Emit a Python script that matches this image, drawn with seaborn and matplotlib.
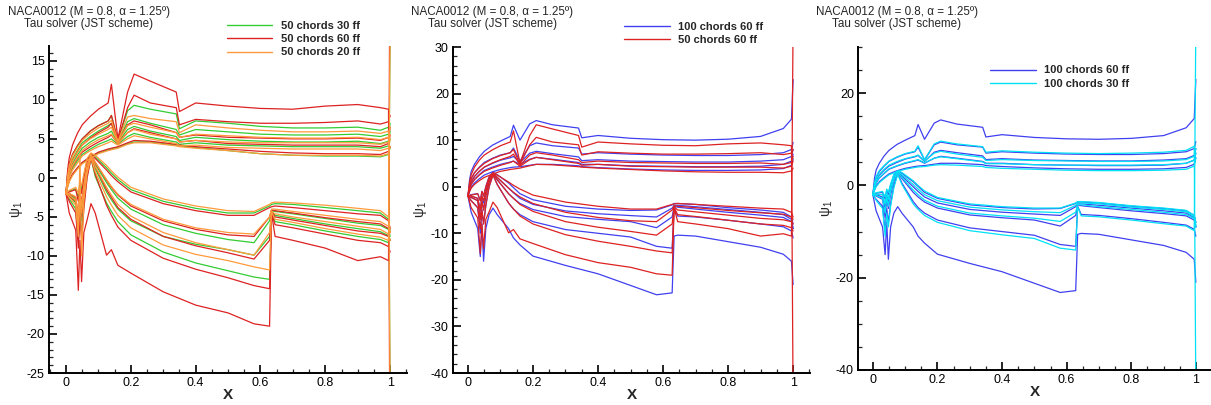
import numpy as np
import pandas as pd
import matplotlib
matplotlib.use('Agg')
import matplotlib.pyplot as plt
import seaborn as sns
from matplotlib.lines import Line2D
from matplotlib.ticker import MultipleLocator, FuncFormatter

# --- data ---
# chordwise stations, upper branch (suction side) and lower branch
xu = [0, 0.005, 0.01, 0.02, 0.035, 0.05, 0.075, 0.1, 0.13, 0.14, 0.16, 0.19, 0.21, 0.26,
      0.34, 0.35, 0.4, 0.5, 0.6, 0.7, 0.8, 0.9, 0.97, 0.995, 1.0]
xl = [0, 0.01, 0.03, 0.038, 0.043, 0.048, 0.055, 0.065, 0.077, 0.09, 0.125, 0.14, 0.16,
      0.2, 0.3, 0.4, 0.5, 0.58, 0.628, 0.634, 0.645, 0.7, 0.8, 0.9, 0.97, 0.995, 1.0]

# 50 chords, 60 ff (red)
red_upper = [
    [-2, 1.0, 2.6, 4.2, 5.7, 6.8, 7.9, 8.8, 9.6, 12.0, 5.0, 11.0, 13.3, 12.4, 11.0, 8.5, 9.6, 9.2, 8.9, 8.8, 9.2, 9.4, 9.0, 8.8, -45],
    [-2, 0.5, 1.8, 3.0, 4.1, 5.0, 6.0, 6.7, 7.3, 8.0, 4.8, 9.0, 10.6, 9.6, 9.0, 6.8, 7.5, 7.2, 7.0, 7.0, 7.1, 7.3, 6.9, 7.2, 8.0],
    [-2, 0.0, 1.1, 2.2, 3.3, 4.2, 5.1, 5.8, 6.5, 7.0, 4.6, 6.8, 7.3, 6.8, 5.8, 5.2, 5.5, 5.2, 5.1, 5.0, 5.0, 5.1, 4.8, 5.2, 6.5],
    [-2, -0.5, 0.5, 1.5, 2.5, 3.3, 4.0, 4.6, 5.2, 5.5, 4.4, 5.8, 6.3, 5.8, 5.0, 4.6, 4.8, 4.4, 4.3, 4.2, 4.2, 4.2, 4.0, 4.4, 5.5],
    [-2, -1.0, -0.3, 0.5, 1.3, 2.0, 2.7, 3.3, 3.7, 3.8, 4.0, 4.5, 4.8, 4.7, 4.3, 4.2, 4.0, 3.7, 3.4, 3.2, 3.1, 3.1, 3.0, 3.4, 4.0],
]
red_lower = [
    [-2, -4.5, -6.7, -14.4, -8, -13.3, -7, -5.4, -3.3, -4.5, -9.9, -9.2, -11.2, -12.2, -14.6, -16.3, -17.3, -18.7, -19.0, -4.5, -7.5, -8.0, -9.0, -10.6, -10.1, -10.6, 35],
    [-2, -3, -4.5, -9, -5, -8, -4, 0, 2.5, 0.5, -3.5, -4.8, -6.3, -8.0, -10.3, -11.7, -12.8, -13.8, -14.2, -4.5, -6.0, -6.4, -7.2, -8.0, -8.3, -8.8, -9.5],
    [-2, -2.3, -3, -7, -3, -5, -2, 1, 2.8, 1.5, -1.5, -2.5, -3.8, -5.3, -7.5, -8.7, -9.6, -10.4, -8.0, -4.3, -5.0, -5.4, -6.1, -6.8, -7.1, -7.5, -8],
    [-2, -2, -2.5, -5, -2, -3, -1, 1.5, 3, 2, -0.3, -1.2, -2.2, -3.6, -5.5, -6.6, -7.3, -7.5, -5.0, -4.1, -4.2, -4.5, -5.1, -5.6, -5.9, -6.5, -7],
    [-2, -1.8, -1.5, -3, -1, -2, 0, 2, 3, 2.5, 1.0, 0.3, -0.5, -1.8, -3.3, -4.2, -4.8, -4.8, -3.8, -3.7, -3.6, -3.8, -4.2, -4.6, -4.8, -5.5, -6.5],
]

# 50 chords, 30 ff (green)
green_upper = [
    [-2, 0.5, 1.8, 3.0, 4.1, 5.0, 6.0, 6.7, 7.3, 8.0, 4.8, 8.6, 9.3, 8.8, 8.2, 6.3, 7.3, 7.0, 6.6, 6.4, 6.4, 6.5, 6.1, 6.5, -30],
    [-2, 0.0, 1.2, 2.4, 3.5, 4.5, 5.3, 6.0, 6.7, 7.0, 4.7, 7.2, 7.6, 7.0, 6.2, 5.5, 6.2, 5.9, 5.6, 5.5, 5.5, 5.6, 5.3, 5.6, 7.0],
    [-2, -0.4, 0.7, 1.8, 2.9, 3.8, 4.6, 5.2, 5.7, 6.0, 4.5, 6.2, 6.6, 6.0, 5.3, 4.8, 5.2, 4.9, 4.7, 4.6, 4.6, 4.7, 4.4, 4.7, 6.0],
    [-2, -0.8, 0.2, 1.2, 2.2, 3.0, 3.7, 4.3, 4.8, 5.0, 4.3, 5.3, 5.7, 5.2, 4.6, 4.3, 4.5, 4.2, 4.1, 4.0, 4.0, 4.0, 3.8, 4.1, 5.0],
    [-2, -1.1, -0.4, 0.4, 1.2, 1.9, 2.6, 3.2, 3.6, 3.7, 3.9, 4.4, 4.6, 4.6, 4.2, 4.1, 3.9, 3.5, 3.1, 2.9, 2.8, 2.8, 2.7, 3.0, 4.0],
]
green_lower = [
    [-2, -2.7, -4, -8, -4.5, -7, -3.5, 0.3, 2.5, 0.2, -3.2, -4.3, -5.6, -7.3, -9.5, -10.9, -11.9, -12.7, -13.0, -4.4, -5.6, -6.0, -6.8, -7.5, -7.9, -8.3, 20],
    [-2, -2.3, -3.2, -7, -3.5, -5.5, -2.5, 0.8, 2.7, 1.2, -1.8, -2.8, -4.0, -5.5, -7.5, -8.5, -9.2, -9.9, -7.5, -4.3, -4.8, -5.2, -5.9, -6.5, -6.9, -7.4, -8],
    [-2, -2.1, -2.7, -6, -2.5, -4, -1.5, 1.3, 2.9, 1.8, -0.6, -1.5, -2.6, -4.0, -6.0, -7.1, -7.9, -8.3, -5.5, -4.2, -4.3, -4.6, -5.2, -5.8, -6.1, -6.6, -7.5],
    [-2, -1.7, -1.4, -2.5, -0.8, -1.5, 0.3, 2.2, 3.1, 2.7, 1.3, 0.6, -0.2, -1.5, -3.0, -3.9, -4.5, -4.5, -3.6, -3.4, -3.3, -3.4, -3.8, -4.2, -4.5, -5.3, -7],
]

# 50 chords, 20 ff (orange)
orange_upper = [
    [-2, 0.3, 1.6, 2.8, 3.9, 4.8, 5.7, 6.4, 7.0, 7.4, 4.7, 7.8, 8.0, 7.6, 7.2, 5.8, 6.8, 6.4, 6.1, 5.9, 5.9, 6.0, 5.7, 6.0, -30],
    [-2, -0.2, 1.0, 2.2, 3.3, 4.2, 5.0, 5.6, 6.2, 6.5, 4.6, 6.7, 7.0, 6.5, 5.8, 5.2, 5.6, 5.4, 5.2, 5.1, 5.1, 5.2, 4.9, 5.2, 6.5],
    [-2, -0.6, 0.5, 1.6, 2.6, 3.5, 4.3, 4.9, 5.4, 5.6, 4.4, 5.8, 6.2, 5.6, 5.0, 4.6, 4.8, 4.6, 4.5, 4.5, 4.5, 4.5, 4.3, 4.6, 5.5],
    [-2, -0.9, 0.0, 1.0, 1.9, 2.8, 3.5, 4.0, 4.5, 4.7, 4.2, 5.0, 5.4, 5.0, 4.4, 4.1, 4.2, 3.9, 3.8, 3.7, 3.7, 3.7, 3.5, 3.8, 5.0],
    [-2, -1.2, -0.5, 0.3, 1.1, 1.8, 2.5, 3.1, 3.5, 3.6, 3.8, 4.3, 4.5, 4.5, 4.1, 4.0, 3.8, 3.5, 3.1, 2.9, 2.9, 2.9, 2.8, 3.1, 4.0],
]
orange_lower = [
    [-2, -2.5, -3.5, -7.5, 3.0, -10, -3, 0.6, 2.6, 0.8, -2.4, -3.5, -4.8, -6.4, -8.6, -9.8, -10.6, -11.4, -11.8, -4.4, -5.3, -5.7, -6.5, -7.2, -7.6, -8, 20],
    [-2, -2.2, -2.9, -6.5, -3, -4.5, -2, 1.0, 2.8, 1.5, -1.2, -2.2, -3.4, -4.9, -7.0, -8.3, -9.2, -9.9, -7.0, -4.3, -4.6, -5.0, -5.6, -6.2, -6.6, -7.2, -8],
    [-2, -2.0, -2.4, -5, -2, -3.5, -1, 1.6, 3.0, 2.0, -0.2, -1.1, -2.1, -3.4, -5.3, -6.4, -7.0, -7.2, -5.0, -4.0, -4.0, -4.3, -4.8, -5.3, -5.6, -6.2, -7],
    [-2, -1.6, -1.2, -2, -0.5, -1, 0.5, 2.5, 3.2, 2.9, 1.6, 0.9, 0.1, -1.2, -2.7, -3.6, -4.2, -4.3, -3.4, -3.2, -3.1, -3.2, -3.5, -3.9, -4.2, -5, -7],
]

# 100 chords, 60 ff (blue)
blue_upper = [
    [-2, 1.5, 3.3, 4.8, 6.4, 7.6, 8.9, 9.8, 10.8, 13.2, 10.0, 13.5, 14.2, 13.3, 12.6, 10.5, 11.0, 10.4, 10.1, 10.0, 10.2, 10.8, 12.5, 14.5, 23],
    [-2, 0.3, 1.7, 3.0, 4.2, 5.2, 6.1, 6.8, 7.3, 8.3, 5.5, 8.8, 9.4, 8.8, 8.3, 7.0, 7.3, 7.0, 6.8, 6.7, 6.7, 6.9, 7.3, 8.0, 9.5],
    [-2, -0.2, 1.0, 2.2, 3.3, 4.2, 5.0, 5.7, 6.2, 6.5, 5.2, 7.2, 7.6, 7.1, 6.4, 5.6, 5.8, 5.5, 5.4, 5.3, 5.3, 5.5, 5.8, 6.5, 8.0],
    [-2, -0.6, 0.5, 1.6, 2.6, 3.5, 4.2, 4.8, 5.3, 5.5, 4.8, 5.9, 6.3, 5.9, 5.2, 4.8, 4.8, 4.5, 4.4, 4.3, 4.3, 4.4, 4.8, 5.5, 7.0],
    [-2, -1.0, -0.1, 0.8, 1.7, 2.5, 3.2, 3.7, 4.1, 4.2, 4.3, 4.6, 4.8, 4.8, 4.5, 4.3, 4.1, 3.8, 3.6, 3.5, 3.5, 3.6, 3.9, 4.6, 6.0],
]
blue_lower = [
    [-2, -5.5, -9, -15, -8, -16, -9, -6, -4.6, -6, -9, -11, -12.5, -14.9, -16.9, -18.7, -21.2, -23.2, -22.8, -10.6, -10.4, -10.6, -11.8, -13.0, -14.5, -16, -21],
    [-2, -3, -4.5, -10, -5, -8, -4, 0, 2.6, 0.5, -3.5, -4.8, -6.0, -7.5, -9.2, -10.0, -10.8, -12.8, -13.2, -4.5, -6.3, -6.5, -7.2, -8.0, -8.6, -9.5, -11],
    [-2, -2.3, -3, -7, -3, -5, -2, 1, 2.8, 1.5, -1.5, -2.5, -3.6, -4.9, -6.4, -7.0, -7.5, -8.8, -6.5, -4.2, -4.4, -4.8, -5.5, -6.1, -6.6, -7.5, -9],
    [-2, -2.0, -2.5, -5, -2, -3.5, -1, 1.6, 3.0, 2.0, -0.3, -1.3, -2.5, -3.8, -5.2, -5.8, -6.2, -6.5, -4.6, -4.0, -4.0, -4.3, -4.9, -5.5, -6.0, -7, -9],
    [-2, -1.7, -1.5, -3, -1, -2, 0, 2.2, 3.1, 2.6, 0.8, -0.2, -1.5, -2.8, -4.2, -4.8, -5.1, -5.0, -3.9, -3.6, -3.6, -3.8, -4.5, -5.0, -5.5, -6.5, -8],
]

# 100 chords, 30 ff (cyan)
cyan_upper = [
    [-2, 0.5, 1.9, 3.2, 4.3, 5.3, 6.2, 6.9, 7.4, 8.6, 5.6, 9.0, 9.6, 9.0, 8.4, 7.2, 7.5, 7.2, 7.0, 6.9, 7.0, 7.2, 7.6, 8.5, -45],
    [-2, -0.1, 1.2, 2.4, 3.5, 4.4, 5.2, 5.8, 6.3, 6.6, 5.3, 7.0, 7.4, 6.8, 6.1, 5.4, 5.6, 5.4, 5.3, 5.2, 5.2, 5.3, 5.6, 6.3, 8.0],
    [-2, -0.5, 0.6, 1.7, 2.7, 3.6, 4.3, 4.9, 5.4, 5.6, 4.9, 5.9, 6.2, 5.8, 5.1, 4.7, 4.7, 4.5, 4.4, 4.4, 4.4, 4.5, 4.8, 5.5, 7.0],
    [-2, -1.1, -0.3, 0.6, 1.5, 2.3, 3.0, 3.5, 3.9, 4.0, 4.1, 4.4, 4.5, 4.4, 4.1, 3.9, 3.7, 3.5, 3.3, 3.2, 3.2, 3.3, 3.5, 4.2, 6.0],
]
cyan_lower = [
    [-2, -3.2, -5, -11, -6, -9, -4.5, -0.5, 2.4, 0.2, -4.0, -5.2, -6.5, -8, -9.8, -10.7, -11.5, -13.6, -14.0, -4.6, -6.6, -6.8, -7.5, -8.3, -8.8, -9.8, 35],
    [-2, -2.2, -2.8, -6, -2.5, -4.5, -1.5, 1.2, 2.9, 1.7, -1.0, -2.0, -3.2, -4.5, -6.0, -6.6, -7.1, -7.8, -5.8, -4.1, -4.2, -4.6, -5.2, -5.8, -6.3, -7.2, -9],
    [-2, -1.9, -2, -4, -1.5, -3, -0.5, 1.8, 3.0, 2.3, 0.2, -0.8, -2.0, -3.3, -4.7, -5.3, -5.7, -5.9, -4.3, -3.8, -3.8, -4.0, -4.7, -5.2, -5.7, -6.8, -8.5],
    [-2, -1.6, -1.3, -2.5, -0.8, -1.5, 0.3, 2.4, 3.2, 2.8, 1.0, 0, -1.2, -2.6, -4.0, -4.6, -4.9, -4.9, -3.8, -3.5, -3.5, -3.7, -4.4, -4.9, -5.4, -6.5, -8],
]

series = {
    '50 chords 30 ff': (green_upper, green_lower),
    '50 chords 60 ff': (red_upper, red_lower),
    '50 chords 20 ff': (orange_upper, orange_lower),
    '100 chords 60 ff': (blue_upper, blue_lower),
    '100 chords 30 ff': (cyan_upper, cyan_lower),
}
colors = {
    '50 chords 30 ff': '#33cc33',
    '50 chords 60 ff': '#dd2222',
    '50 chords 20 ff': '#ff9a3c',
    '100 chords 60 ff': '#4040f0',
    '100 chords 30 ff': '#00e1f5',
}


def curves_frame(name):
    up, low = series[name]
    parts = []
    for k, ys in enumerate(up):
        parts.append(pd.DataFrame({'x': xu, 'psi': ys, 'case': name, 'curve': 'u%d' % k}))
    for k, ys in enumerate(low):
        parts.append(pd.DataFrame({'x': xl, 'psi': ys, 'case': name, 'curve': 'l%d' % k}))
    return pd.concat(parts, ignore_index=True)


sns.set_style('white')
plt.rcParams['font.family'] = ['Liberation Sans', 'DejaVu Sans']
plt.rcParams['axes.unicode_minus'] = False

fig = plt.figure(figsize=(12.11, 4.05), dpi=100)
W, H = 1211.0, 405.0

# panel setup: pixel box, x range, y range, y ticks, drawing order, legend spot
panels = [
    dict(box=(49, 46, 407, 373), xlim=(-0.0525, 1.052), ylim=(-25, 16.9), major=5, minor=1,
         cases=['50 chords 30 ff', '50 chords 60 ff', '50 chords 20 ff'],
         legend=(0.497, 1.077), title_x=89),
    dict(box=(453, 47, 810, 373), xlim=(-0.046, 1.052), ylim=(-40, 30), major=10, minor=2,
         cases=['100 chords 60 ff', '50 chords 60 ff'],
         legend=(0.479, 1.078), title_x=492),
    dict(box=(858, 47, 1212, 370), xlim=(-0.046, 1.05), ylim=(-40, 30), major=20, minor=5,
         cases=['100 chords 60 ff', '100 chords 30 ff'],
         legend=(0.373, 0.943), title_x=897),
]
legend_order = [
    ['50 chords 30 ff', '50 chords 60 ff', '50 chords 20 ff'],
    ['100 chords 60 ff', '50 chords 60 ff'],
    ['100 chords 60 ff', '100 chords 30 ff'],
]

for p, leg_names in zip(panels, legend_order):
    x0, y0, x1, y1 = p['box']
    ax = fig.add_axes([x0 / W, 1 - y1 / H, (x1 - x0) / W, (y1 - y0) / H])
    for name in p['cases']:
        df = curves_frame(name)
        sns.lineplot(data=df, x='x', y='psi', units='curve', estimator=None, sort=False,
                     color=colors[name], lw=0.9, ax=ax, legend=False)
    ax.set_xlim(*p['xlim'])
    ax.set_ylim(*p['ylim'])

    for s in ['top', 'right']:
        ax.spines[s].set_visible(False)
    for s in ['left', 'bottom']:
        ax.spines[s].set_linewidth(1.4)
        ax.spines[s].set_color('black')

    ax.xaxis.set_major_locator(MultipleLocator(0.2))
    ax.xaxis.set_minor_locator(MultipleLocator(0.05))
    ax.yaxis.set_major_locator(MultipleLocator(p['major']))
    ax.yaxis.set_minor_locator(MultipleLocator(p['minor']))
    ax.xaxis.set_major_formatter(FuncFormatter(lambda v, pos: '%g' % round(v, 2)))
    ax.yaxis.set_major_formatter(FuncFormatter(lambda v, pos: '%g' % v))
    ax.tick_params(which='major', direction='in', length=6, width=1.2, labelsize=9, pad=3,
                   left=True, bottom=True, colors='black')
    ax.tick_params(which='minor', direction='in', length=3, width=0.9,
                   left=True, bottom=True)

    ax.set_xlabel('X', fontsize=11, fontweight='bold', labelpad=0)
    ax.xaxis.set_label_coords(0.5, -0.045)
    ax.set_ylabel(r'$\mathregular{\psi_1}$', fontsize=10, labelpad=0)
    ax.yaxis.set_label_coords(-0.066, 0.5)

    handles = [Line2D([], [], color=colors[n], lw=1.0) for n in leg_names]
    ax.legend(handles, leg_names, loc='upper left', bbox_to_anchor=p['legend'],
              frameon=False, borderpad=0, borderaxespad=0, handlelength=4.1,
              handletextpad=0.8, labelspacing=0.3,
              prop={'weight': 'bold', 'size': 8})

    fig.text(p['title_x'] / W, 1 - 6 / H,
             'NACA0012 (M = 0.8, \u03b1 = 1.25\u00ba)\nTau solver (JST scheme)',
             ha='center', va='top', ma='center', fontsize=8.4, linespacing=1.0)

fig.savefig('out.png', dpi=100)
